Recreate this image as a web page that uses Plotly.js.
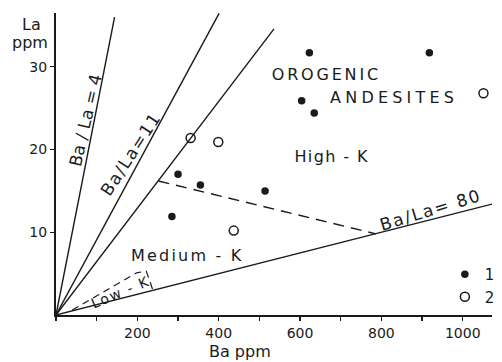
<!DOCTYPE html>
<html>
<head>
<meta charset="utf-8">
<script src="https://cdn.plot.ly/plotly-3.0.1.min.js"></script>
<style>
html, body { margin: 0; padding: 0; background: #fff; }
#chart { width: 502px; height: 362px; }
.annotation[data-index="0"] text { letter-spacing: 2.8px; }
.annotation[data-index="1"] text { letter-spacing: 4.2px; }
.annotation[data-index="2"] text { letter-spacing: 1.4px; }
.annotation[data-index="3"] text { letter-spacing: 2.2px; }
.annotation[data-index="5"] text { letter-spacing: 1.5px; }
.annotation[data-index="6"] text { letter-spacing: 1.8px; }
.annotation[data-index="7"] text { letter-spacing: 1.6px; }
</style>
</head>
<body>
<div id="chart"></div>
<script>
// ---- Data ----
// Series 1 (filled circles): Ba ppm, La ppm
var ba1 = [623, 918, 604, 635, 300, 355, 514, 285];
var la1 = [31.7, 31.7, 25.9, 24.4, 17.0, 15.7, 15.0, 11.9];
// Series 2 (open circles)
var ba2 = [331, 399, 437, 1051];
var la2 = [21.4, 20.9, 10.2, 26.8];
// Ba/La ratio lines from origin, with the Ba where each line ends
var ratios = [4, 11, 15.5, 80];
var ratioEndBa = [144, 401, 536, 1072];
// Medium-K / High-K dashed boundary
var baMH = [252, 787];
var laMH = [16.2, 9.8];
// Low-K dashed bracket
var baLowK = [40, 198, 222, 239];
var laLowK = [0.6, 5.1, 5.3, 2.9];
// Axis ticks
var xTickVals = [200, 400, 600, 800, 1000];
var yTickVals = [10, 20, 30];

var INK = '#1a1a1a';
var FONT = 'DejaVu Sans, sans-serif';

var traces = [];
ratios.forEach(function (r, i) {
  traces.push({
    x: [0, ratioEndBa[i]], y: [0, ratioEndBa[i] / r],
    mode: 'lines', line: {color: INK, width: 1.4},
    showlegend: false, hoverinfo: 'skip'
  });
});
traces.push({
  x: baMH, y: laMH, mode: 'lines',
  line: {color: INK, width: 1.4, dash: '11px,7px'},
  showlegend: false, hoverinfo: 'skip'
});
traces.push({
  x: baLowK, y: laLowK, mode: 'lines',
  line: {color: INK, width: 1.2, dash: '7px,5px'},
  showlegend: false, hoverinfo: 'skip'
});
traces.push({
  x: ba1, y: la1, mode: 'markers', name: '1',
  marker: {symbol: 'circle', size: 7.5, color: INK}
});
traces.push({
  x: ba2, y: la2, mode: 'markers', name: '2',
  marker: {symbol: 'circle-open', size: 9, color: INK, line: {width: 1.5, color: INK}}
});

// pixel -> paper helpers for text placement
var L = 56, T = 13, W = 444, H = 302;
function px(x) { return (x - L) / W; }
function py(y) { return (T + H - y) / H; }

function ann(text, x, y, size, angle) {
  return {
    text: text, xref: 'paper', yref: 'paper', x: px(x), y: py(y),
    xanchor: 'center', yanchor: 'middle', showarrow: false,
    textangle: angle || 0, font: {family: FONT, size: size, color: INK}
  };
}

var annotations = [
  ann('OROGENIC', 331, 74, 16),
  ann('ANDESITES', 400, 97, 16),
  ann('High - K', 337, 156, 16),
  ann('Medium - K', 190, 255, 16),
  ann('Ba / La = 4', 86, 120, 17, -77),
  ann('Ba/La=11', 132, 154, 17, -57),
  ann('Ba/La= 80', 437, 210, 17, -17),
  ann('Low - K', 122, 292, 14, -23),
  ann('La', 31, 25, 16),
  ann('ppm', 30, 42, 16),
  ann('Ba ppm', 243, 351, 16)
];

var layout = {
  width: 502, height: 362,
  margin: {l: L, r: 502 - L - W, t: T, b: 362 - T - H, pad: 0},
  paper_bgcolor: '#fff', plot_bgcolor: '#fff',
  font: {family: FONT, color: INK, size: 14},
  xaxis: {
    range: [0, 1072], showgrid: false, zeroline: false,
    showline: true, linewidth: 2, linecolor: INK,
    tickvals: xTickVals, ticks: 'outside', ticklen: 4, tickwidth: 1.2, tickcolor: INK,
    minor: {dtick: 100, tick0: 0, ticks: 'outside', ticklen: 4, tickwidth: 1.2, tickcolor: INK},
    tickfont: {family: FONT, size: 14, color: INK}
  },
  yaxis: {
    range: [0, 36.5], showgrid: false, zeroline: false,
    showline: true, linewidth: 2, linecolor: INK,
    tickvals: yTickVals, ticks: 'outside', ticklen: 4, tickwidth: 1.2, tickcolor: INK,
    tickfont: {family: FONT, size: 14, color: INK}
  },
  showlegend: true,
  legend: {
    x: px(452), y: py(258), xanchor: 'left', yanchor: 'top',
    bgcolor: 'rgba(0,0,0,0)', borderwidth: 0,
    font: {family: FONT, size: 15, color: INK},
    tracegroupgap: 0
  },
  annotations: annotations
};

Plotly.newPlot('chart', traces, layout, {staticPlot: true, displayModeBar: false});
</script>
</body>
</html>
